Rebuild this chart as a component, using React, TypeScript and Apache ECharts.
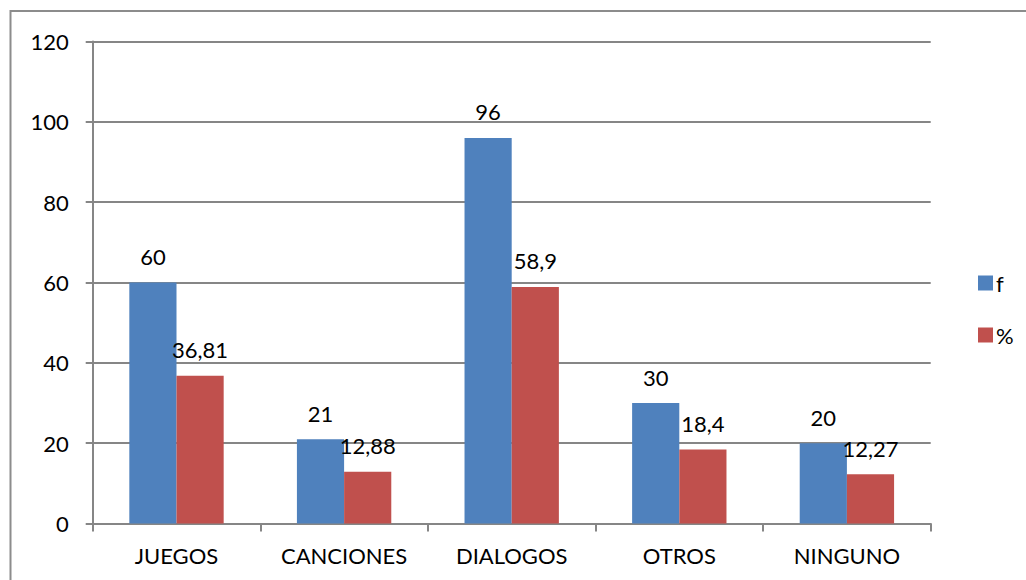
import React, { useEffect, useRef } from "react";
import * as echarts from "echarts";

const categories = ["JUEGOS", "CANCIONES", "DIALOGOS", "OTROS", "NINGUNO"];
const seriesF = [60, 21, 96, 30, 20];
const seriesPct = [36.81, 12.88, 58.9, 18.4, 12.27];
const seriesNames = ["f", "%"];

const FONT = "Lato, 'Open Sans', sans-serif";

export default function App() {
  const ref = useRef<HTMLDivElement>(null);
  useEffect(() => {
    if (!ref.current) return;
    const chart = echarts.init(ref.current, null, { renderer: "svg" });
    const label = {
      show: true,
      position: "top",
      distance: 15,
      color: "#000",
      fontSize: 22,
      fontFamily: FONT,
      formatter: (p: any) => String(p.value).replace(".", ","),
    };
    chart.setOption({
      animation: false,
      textStyle: { fontFamily: FONT },
      graphic: [
        {
          type: "rect",
          shape: { x: 10.5, y: 11, width: 1100, height: 700 },
          style: { fill: "none", stroke: "#8c8c8c", lineWidth: 2 },
          silent: true,
        },
      ],
      legend: {
        orient: "vertical",
        left: 973,
        top: 267,
        itemWidth: 15,
        itemHeight: 15,
        itemGap: 30,
        icon: "rect",
        textStyle: { fontSize: 22, color: "#000", fontFamily: FONT, padding: [0, 0, 0, -2] },
        data: seriesNames,
      },
      grid: { left: 92.7, right: 95.3, top: 41.5, bottom: 56.5, containLabel: false },
      xAxis: {
        type: "category",
        data: categories,
        axisLine: { lineStyle: { color: "#868686", width: 2 } },
        axisTick: { show: true, length: 8, lineStyle: { color: "#868686", width: 2 } },
        axisLabel: { color: "#000", fontSize: 22, fontFamily: FONT, margin: 21 },
      },
      yAxis: {
        type: "value",
        min: 0,
        max: 120,
        interval: 20,
        axisLine: { show: true, lineStyle: { color: "#868686", width: 2 } },
        axisTick: { show: true, length: 7, lineStyle: { color: "#868686", width: 2 } },
        splitLine: { show: true, lineStyle: { color: "#868686", width: 2 } },
        axisLabel: { color: "#000", fontSize: 22, fontFamily: FONT, margin: 24 },
      },
      series: [
        {
          name: seriesNames[0],
          type: "bar",
          data: seriesF,
          itemStyle: { color: "#4F81BD" },
          barGap: "0%",
          barCategoryGap: "43.7%",
          label,
        },
        {
          name: seriesNames[1],
          type: "bar",
          data: seriesPct,
          itemStyle: { color: "#C0504D" },
          barGap: "0%",
          barCategoryGap: "43.7%",
          label,
        },
      ],
    });
    return () => chart.dispose();
  }, []);
  return (
    <div
      ref={ref}
      style={{ position: "fixed", left: 0, top: 0, width: 1026, height: 580, background: "#fff" }}
    />
  );
}
